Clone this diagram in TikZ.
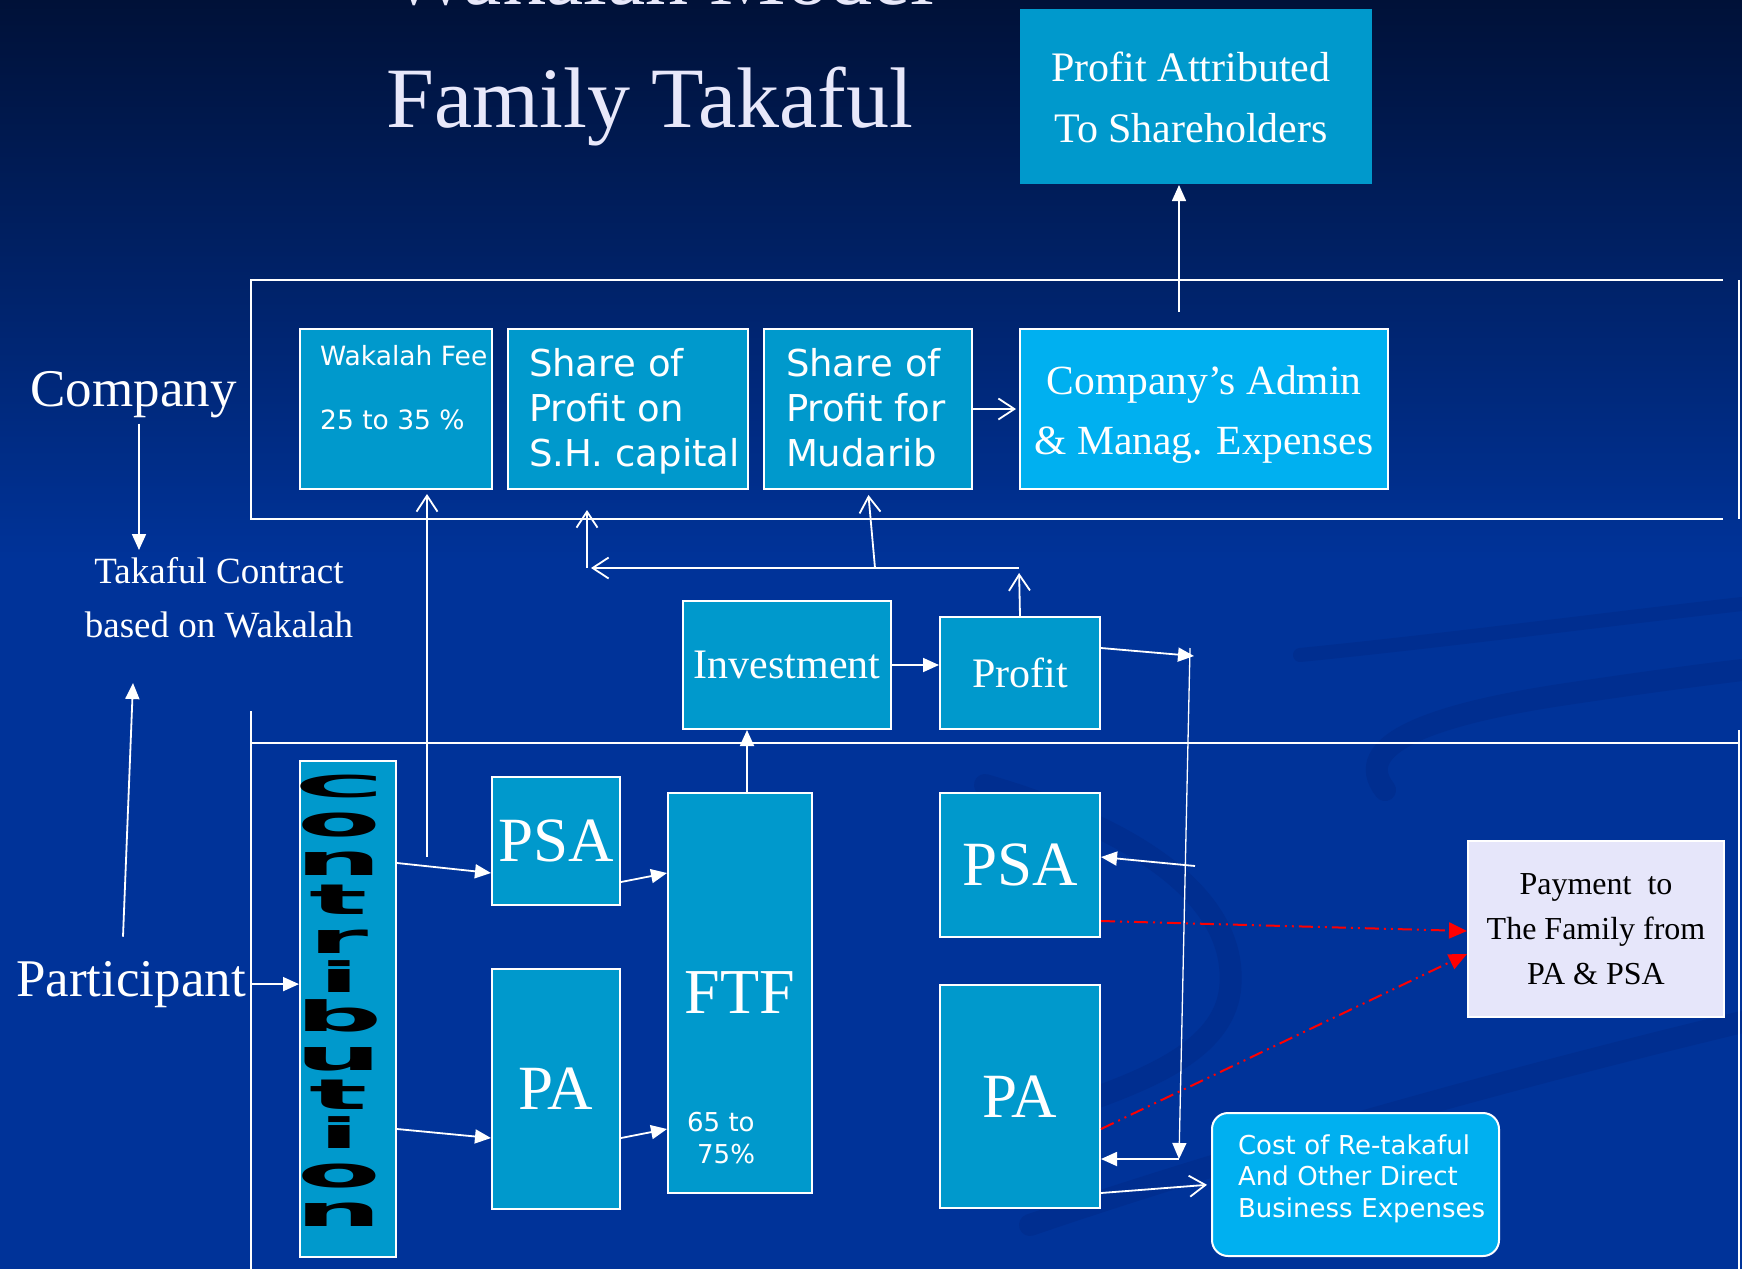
\documentclass[tikz,border=0pt]{standalone}
\usepackage{fontspec}
\usepackage{graphicx}
\setmainfont{Liberation Serif}
\newfontfamily\vsans{DejaVu Sans}
\usetikzlibrary{arrows.meta}

\definecolor{bgtop}{RGB}{0,17,56}
\definecolor{bgmid}{RGB}{0,42,128}
\definecolor{bgbot}{RGB}{0,51,153}
\definecolor{swooshc}{RGB}{0,46,144}
\definecolor{boxc}{RGB}{0,153,204}
\definecolor{lightc}{RGB}{0,176,240}
\definecolor{lav}{RGB}{230,230,250}
\definecolor{titlec}{RGB}{232,232,250}

% invisible struts that fix the height of a first line / depth of a last line
\newcommand\hstrut[1]{\rule{0pt}{#1pt}}
\newcommand\dstrut[1]{\rule[-#1pt]{0pt}{#1pt}}
% one widened letter of the stacked "Contribution" label
\newcommand\stackletter[2][1]{\scalebox{2.9}[#1]{#2}}

\begin{document}
\begin{tikzpicture}[x=1pt,y=-1pt,
  box/.style={draw=white, line width=2pt, fill=boxc, inner sep=0pt,
    anchor=north west, text=white},
  frame/.style={draw=white, line width=2.2pt},
  fl/.style={draw=white, line width=1.8pt, -{Triangle[length=16pt,width=14pt]}},
  op/.style={draw=white, line width=1.8pt, -{Straight Barb[length=16pt,width=21pt]}},
  redarrow/.style={draw=red, line width=2pt,
    dash pattern=on 14pt off 5pt on 2pt off 5pt on 2pt off 5pt,
    -{Triangle[length=18pt,width=16pt]}},
  lbl/.style={text=white, inner sep=0pt},
  swoosh/.style={draw=swooshc, line width=22pt, line cap=round}]

% slide background
\fill[bgbot] (0,0) rectangle (1742,1269);
\shade[top color=bgtop, middle color=bgmid, bottom color=bgbot] (0,0) rectangle (1742,560);
\useasboundingbox (0,0) rectangle (1742,1269);

% faint background swooshes
\draw[swoosh] (985,785) .. controls (1140,830) and (1240,900) .. (1230,990)
  .. controls (1222,1050) and (1150,1080) .. (1060,1110);
\draw[swoosh] (1030,1225) .. controls (1220,1160) and (1480,1085) .. (1742,1022);
\draw[swoosh] (1385,790) .. controls (1350,745) and (1430,715) .. (1560,695)
  .. controls (1640,683) and (1700,675) .. (1742,670);
\draw[swoosh, line width=14pt] (1300,655) .. controls (1450,640) and (1600,620) .. (1742,604);

% title
\node[text=titlec, inner sep=0pt, anchor=base, font=\fontsize{86}{100}\selectfont] (title-a) at (662,4) {Wakalah Model};
\node[text=titlec, inner sep=0pt, anchor=base, font=\fontsize{86}{100}\selectfont] (title-b) at (650,127) {Family Takaful};

% section frames
\draw[frame] (1723,280) -- (251,280) -- (251,519) -- (1723,519);
\draw[frame] (1739,280) -- (1739,519);
\draw[frame] (251,711) -- (251,1269);
\draw[frame] (251,743) -- (1739,743);
\draw[frame] (1739,730) -- (1739,1269);

% side labels
\node[lbl, anchor=base, font=\fontsize{53}{60}\selectfont] (company) at (133.5,406) {Company};
\node[lbl, anchor=north, align=center, font=\fontsize{37}{54}\selectfont] (contract) at (219,557) {Takaful Contract\\based on Wakalah};
\node[lbl, anchor=base, font=\fontsize{53}{60}\selectfont] (participant) at (131,996) {Participant};

% shareholders
\node[box, draw=none, minimum width=352pt, minimum height=175pt, align=center,
  font=\fontsize{42}{61}\selectfont] (profattr) at (1019,8)
  {\hstrut{32}Profit Attributed\hspace*{10pt}\\To Shareholders\hspace*{10pt}};

% company boxes
\node[box, minimum width=192pt, minimum height=160pt] (wak) at (299,328) {};
\node[lbl, anchor=north west, align=left, font=\vsans\fontsize{26.5}{64}\selectfont] (wak-text) at (320,344.9) {Wakalah Fee\\25 to 35 \%};
\node[box, minimum width=240pt, minimum height=160pt, text width=198pt, align=left,
  font=\vsans\fontsize{37}{45}\selectfont] (shc) at (507,328)
  {\hstrut{33}\mbox{Share of}\\\mbox{Profit on}\\\mbox{S.H. capital}\dstrut{9}};
\node[box, minimum width=208pt, minimum height=160pt, text width=164pt, align=left,
  font=\vsans\fontsize{37}{45}\selectfont] (mud) at (763,328)
  {\hstrut{28.5}\mbox{Share of}\\\mbox{Profit for}\\\mbox{Mudarib}\dstrut{4.5}};
\node[box, fill=lightc, minimum width=368pt, minimum height=160pt, align=center,
  font=\fontsize{41.5}{60}\selectfont] (admin) at (1019,328)
  {\hstrut{39}Company’s Admin\\\& Manag. Expenses\dstrut{9}};

% investment flow
\node[box, minimum width=208pt, minimum height=128pt, font=\fontsize{42}{50}\selectfont] (invest) at (682,600) {Investment};
\node[box, minimum width=160pt, minimum height=112pt, font=\fontsize{42}{50}\selectfont] (profit) at (939,616) {Profit};

% participant boxes
\node[box, minimum width=96pt, minimum height=496pt] (contrib) at (299,760) {};
\node[inner sep=0pt, anchor=north, align=center, text=black,
  font=\vsans\bfseries\fontsize{42}{39}\selectfont] (contrib-text) at (339,775)
  {\stackletter[0.72]{C}\\\stackletter{o}\\\stackletter{n}\\\stackletter{t}\\\stackletter{r}\\\stackletter{i}\\\stackletter{b}\\\stackletter{u}\\\stackletter{t}\\\stackletter{i}\\\stackletter{o}\\\stackletter{n}};
\node[box, minimum width=128pt, minimum height=128pt, font=\fontsize{63}{70}\selectfont] (psaL) at (491,776) {PSA};
\node[box, minimum width=128pt, minimum height=240pt, font=\fontsize{63}{70}\selectfont] (paL) at (491,968) {PA};
\node[box, minimum width=144pt, minimum height=400pt, font=\fontsize{64}{70}\selectfont] (ftf) at (667,792) {FTF};
\node[lbl, anchor=north west, align=left, font=\vsans\fontsize{26}{32}\selectfont] (ftf-share) at (687,1112) {65 to\\\hspace*{10pt}75\%};
\node[box, minimum width=160pt, minimum height=144pt, font=\fontsize{63}{70}\selectfont] (psaR) at (939,792) {PSA};
\node[box, minimum width=160pt, minimum height=223pt, font=\fontsize{63}{70}\selectfont] (paR) at (939,984) {PA};
\node[box, fill=lav, text=black, minimum width=256pt, minimum height=176pt, align=center,
  font=\fontsize{32}{45}\selectfont] (pay) at (1467,840)
  {\hstrut{22}Payment\ \ to\\The Family from\\PA \& PSA};
\node[box, fill=lightc, rounded corners=16pt, minimum width=287pt, minimum height=143pt,
  text width=235pt, align=left, font=\vsans\fontsize{26}{31.5}\selectfont] (cost) at (1211,1112)
  {\hstrut{20}\mbox{Cost of Re-takaful}\\\mbox{And Other Direct}\\\mbox{Business Expenses}\dstrut{18}};

% connector end points
\coordinate (contract-in) at (139,550);
\coordinate (attr-foot) at (1179,312);
\coordinate (wak-foot) at (427,857);
\coordinate (split-left) at (587,568);
\coordinate (split-mid) at (875,568);
\coordinate (split-right) at (1019,568);
\coordinate (ftf-up) at (747,792);
\coordinate (bus-top) at (1190,648);
\coordinate (bus-hit) at (1194,656);
\coordinate (bus-bot) at (1179,1159);
\coordinate (psa-feed) at (1195,866);

% left-hand labels
\draw[fl, shorten <=6pt] (company.south -| contract-in) -- (contract-in);
\draw[fl] ([xshift=-8pt,yshift=24pt]participant.north) -- ([xshift=-86pt,yshift=-45pt]contract.south);
\draw[fl, shorten <=6pt] (participant.east) -- (participant.east -| contrib.west);

% company side
\draw[fl, line width=1.5pt] (attr-foot) -- (attr-foot |- profattr.south);
\draw[op, shorten >=3pt] (mud.east) -- (admin.west);
\draw[op, shorten >=4pt] (wak-foot) -- (wak-foot |- wak.south);
\draw[op, shorten >=20pt] (split-left) -- (split-left |- shc.south);
\draw[op, shorten >=4pt] (split-right) -- (split-left);
\draw[op, shorten >=5pt] (split-mid) -- (mud.south);
\draw[op, shorten >=5pt] (profit.north) -- (split-right);

% fund flows
\draw[fl] ([yshift=146pt]contrib.east) -- ([yshift=-32pt]psaL.west);
\draw[fl] ([yshift=-120pt]contrib.east) -- ([yshift=-49pt]paL.west);
\draw[fl] ([yshift=-41pt]psaL.east) -- ([yshift=120pt]ftf.west);
\draw[fl] ([yshift=-49pt]paL.east) -- ([yshift=-136pt]ftf.west);
\draw[fl] (ftf-up) -- (ftf-up |- invest.south);
\draw[fl] (invest.east) -- (invest.east -| profit.west);
\draw[fl] ([yshift=25pt]profit.east) -- (bus-hit);
\draw[fl, line width=1.3pt] (bus-top) -- (bus-bot);
\draw[fl] (bus-bot) -- (bus-bot -| paR.east);
\draw[fl] (psa-feed) -- ([yshift=8pt]psaR.east);
\draw[op, shorten >=4pt] ([yshift=-96.5pt]paR.east) -- (cost.west);

% payments to the family
\draw[redarrow] ([yshift=-56pt]psaR.east) -- ([yshift=-2pt]pay.west);
\draw[redarrow] ([yshift=-32.5pt]paR.east) -- ([yshift=-25pt]pay.west);

\end{tikzpicture}
\end{document}
